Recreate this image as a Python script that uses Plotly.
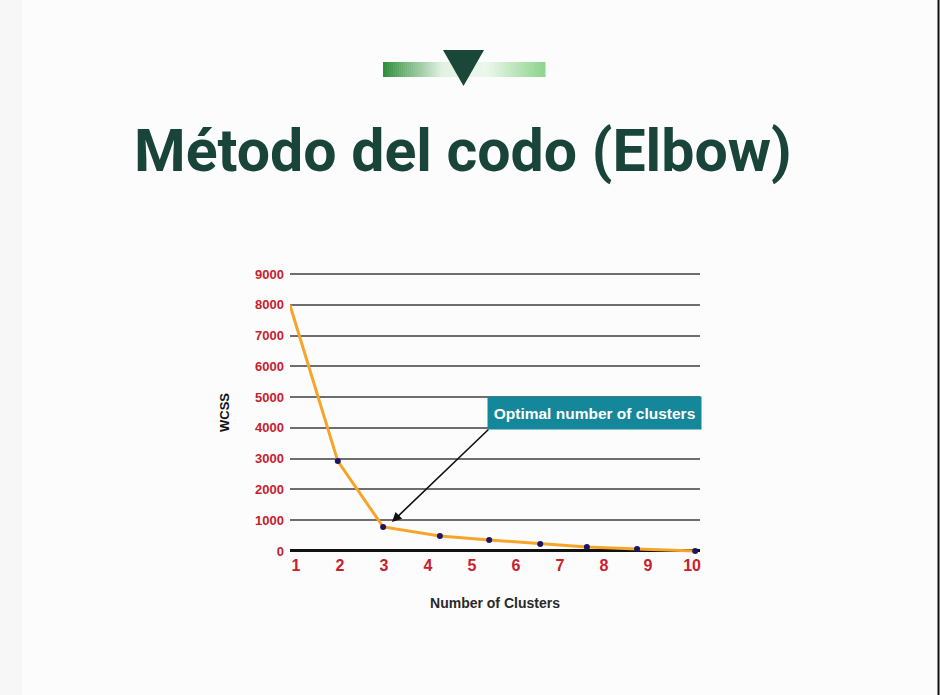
import plotly.graph_objects as go

# ---- data ----
cluster_labels = ["1", "2", "3", "4", "5", "6", "7", "8", "9", "10"]
cluster_ticks = [1, 2, 3, 4, 5, 6, 7, 8, 9, 10]
point_x = [0.86, 1.95, 2.98, 4.27, 5.39, 6.55, 7.61, 8.75, 10.07]
wcss = [8000, 2920, 780, 490, 360, 230, 130, 65, 0]
y_ticks = [0, 1000, 2000, 3000, 4000, 5000, 6000, 7000, 8000, 9000]
title_text = "Método del codo (Elbow)"
note_text = "Optimal number of clusters"

W, H = 940, 695
def px(x):
    return x / W
def py(y):
    return 1 - y / H

fig = go.Figure()
fig.add_trace(go.Scatter(
    x=point_x, y=wcss, mode="lines+markers",
    line=dict(color="#f6a52a", width=3),
    marker=dict(color="#1c1660", size=6),
    cliponaxis=False, hoverinfo="skip", showlegend=False,
))

shapes = []
# page background details
shapes.append(dict(type="rect", xref="paper", yref="paper", x0=0, x1=px(22), y0=0, y1=1,
                   fillcolor="#f7f7f7", line=dict(width=0), layer="below"))
shapes.append(dict(type="line", xref="paper", yref="paper", x0=px(938.5), x1=px(938.5), y0=0, y1=1,
                   line=dict(color="#111111", width=2)))

# gradient bar (built from thin slices)
def lerp(c1, c2, t):
    return tuple(round(a + (b - a) * t) for a, b in zip(c1, c2))
stops = [(383, (46, 140, 58)), (442, (226, 242, 226)), (486, (236, 247, 236)), (545, (140, 212, 140))]
n = 80
x0b, x1b = 383, 545
for i in range(n):
    xa = x0b + (x1b - x0b) * i / n
    xb = x0b + (x1b - x0b) * (i + 1) / n
    xm = (xa + xb) / 2
    for j in range(len(stops) - 1):
        if stops[j][0] <= xm <= stops[j + 1][0]:
            t = (xm - stops[j][0]) / (stops[j + 1][0] - stops[j][0])
            c = lerp(stops[j][1], stops[j + 1][1], t)
            break
    shapes.append(dict(type="rect", xref="paper", yref="paper",
                       x0=px(xa), x1=px(xb + 0.5), y0=py(77), y1=py(62),
                       fillcolor="rgb(%d,%d,%d)" % c, line=dict(width=0)))
# triangle
shapes.append(dict(type="path", xref="paper", yref="paper",
                   path="M %f %f L %f %f L %f %f Z" % (px(443), py(50), px(484), py(50), px(463.5), py(86)),
                   fillcolor="#1b4738", line=dict(width=0)))

fig.update_layout(
    width=W, height=H,
    margin=dict(l=0, r=0, t=0, b=0),
    paper_bgcolor="#fcfcfc", plot_bgcolor="rgba(0,0,0,0)",
    shapes=shapes,
    font=dict(family="Liberation Sans, Arial, sans-serif"),
    xaxis=dict(
        domain=[px(290), px(700)], range=[0.864, 10.18],
        tickvals=cluster_ticks, ticktext=cluster_labels,
        showgrid=False, zeroline=False, showline=False, ticks="",
        ticklabelstandoff=-6,
        tickfont=dict(size=16, color="#c8202e", weight="bold"),
        title=dict(text="<b>Number of Clusters</b>", font=dict(size=14, color="#2a2a2a"), standoff=24),
    ),
    yaxis=dict(
        domain=[py(560.2), py(264.8)], range=[-300, 9300],
        tickvals=y_ticks, showgrid=True, gridcolor="#6e6e6e", gridwidth=1.5,
        zeroline=True, zerolinecolor="#111111", zerolinewidth=2.5,
        showline=False, ticks="", ticklabelstandoff=5,
        tickfont=dict(size=13, color="#c8202e", weight="bold"),
        title=dict(text="<b>WCSS</b>", font=dict(size=13, color="#111111"), standoff=22),
    ),
)

fig.add_annotation(
    xref="paper", yref="paper", x=px(462.5), y=py(150),
    yanchor="middle",
    text="<b>%s</b>" % title_text, showarrow=False,
    font=dict(family="Roboto, Inter, sans-serif", size=59, color="#19443a"),
)
# arrow
fig.add_annotation(
    x=3.18, y=940, xref="x", yref="y", ax=98, ay=-94, axref="pixel", ayref="pixel",
    text="", showarrow=True, arrowhead=2, arrowsize=1.2, arrowwidth=1.6, arrowcolor="#111111",
)
# note box
fig.add_annotation(
    xref="paper", yref="paper", x=px(594.5), y=py(413),
    text="<b>%s</b>" % note_text, showarrow=False,
    width=213, height=32, bgcolor="#14879a", borderpad=0,
    font=dict(size=15.5, color="#ffffff"), align="center", valign="middle",
)

fig.write_html("out.html")
